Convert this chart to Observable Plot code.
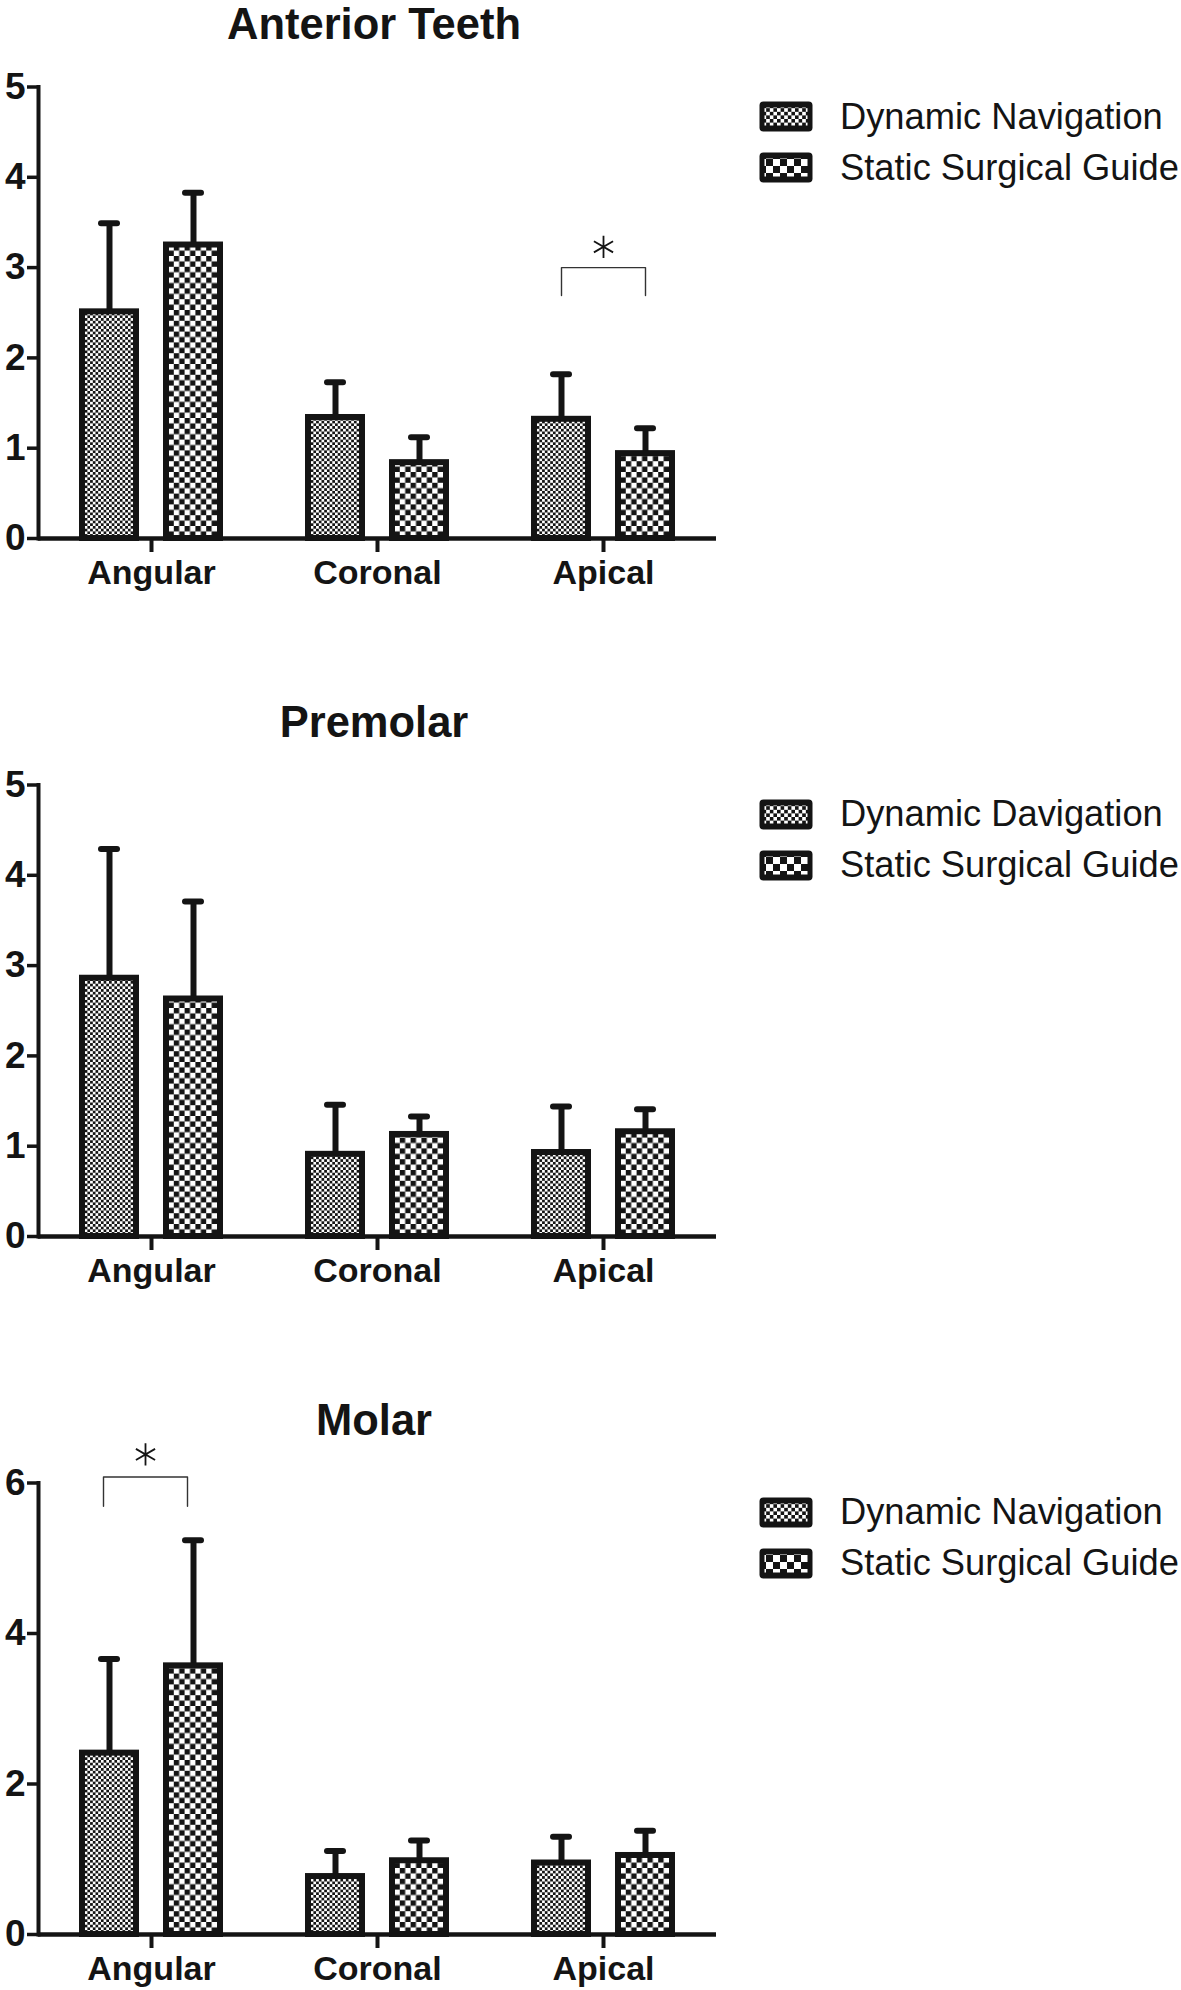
<!DOCTYPE html>
<html>
<head>
<meta charset="utf-8">
<script src="https://cdn.jsdelivr.net/npm/d3@7"></script>
<script src="https://cdn.jsdelivr.net/npm/@observablehq/plot@0.6"></script>
<style>
  html, body { margin: 0; padding: 0; background: #fff; }
  body { width: 1181px; height: 1990px; overflow: hidden; position: relative;
         font-family: "Liberation Sans", Arial, Helvetica, sans-serif; color: #141414; }
  .panel { position: absolute; left: 0; width: 1181px; height: 700px; }
  .title { position: absolute; left: 0; width: 748px; text-align: center; font-weight: bold;
           font-size: 43.5px; line-height: normal; white-space: nowrap; }
  .chart { position: absolute; left: 0; }
  .legend { position: absolute; left: 759px; width: 420px; height: 110px; }
  .item { position: absolute; left: 0; width: 420px; height: 36px; }
  .item svg { position: absolute; left: 0; }
  .item span { position: absolute; left: 81px; font-size: 36.3px; line-height: 36px; white-space: nowrap; }
</style>
</head>
<body>
<svg width="0" height="0" style="position:absolute;left:0;top:0">
  <defs>
    <pattern id="fineChecker" patternUnits="userSpaceOnUse" width="5.4" height="5.4">
      <rect width="5.4" height="5.4" fill="#fff"/>
      <rect width="2.7" height="2.7" fill="#141414"/>
      <rect x="2.7" y="2.7" width="2.7" height="2.7" fill="#141414"/>
    </pattern>
    <pattern id="coarseChecker" patternUnits="userSpaceOnUse" width="10.8" height="10.8">
      <rect width="10.8" height="10.8" fill="#fff"/>
      <rect width="5.4" height="5.4" fill="#141414"/>
      <rect x="5.4" y="5.4" width="5.4" height="5.4" fill="#141414"/>
    </pattern>
    <pattern id="legendFine" patternUnits="userSpaceOnUse" width="7.2" height="7.2">
      <rect width="7.2" height="7.2" fill="#fff"/>
      <rect width="3.6" height="3.6" fill="#141414"/>
      <rect x="3.6" y="3.6" width="3.6" height="3.6" fill="#141414"/>
    </pattern>
    <pattern id="legendCoarse" patternUnits="userSpaceOnUse" width="14" height="14">
      <rect width="14" height="14" fill="#fff"/>
      <rect width="7" height="7" fill="#141414"/>
      <rect x="7" y="7" width="7" height="7" fill="#141414"/>
    </pattern>
  </defs>
</svg>
<div id="root"></div>
<script>
// ---------------- data ----------------
const categories = ["Angular", "Coronal", "Apical"];
const seriesNames = ["Dynamic Navigation", "Static Surgical Guide"];
const panelTitles = ["Anterior Teeth", "Premolar", "Molar"];
const legendLabelsAnterior = ["Dynamic Navigation", "Static Surgical Guide"];
const legendLabelsPremolar = ["Dynamic Davigation", "Static Surgical Guide"];
const legendLabelsMolar = ["Dynamic Navigation", "Static Surgical Guide"];

// means (bar heights) and mean + SD (error bar tops)
const anteriorDynamic = [2.51, 1.34, 1.32];
const anteriorDynamicUpper = [3.49, 1.73, 1.82];
const anteriorStatic = [3.25, 0.84, 0.94];
const anteriorStaticUpper = [3.83, 1.12, 1.22];

const premolarDynamic = [2.86, 0.91, 0.93];
const premolarDynamicUpper = [4.29, 1.46, 1.44];
const premolarStatic = [2.63, 1.13, 1.16];
const premolarStaticUpper = [3.71, 1.33, 1.41];

const molarDynamic = [2.41, 0.77, 0.95];
const molarDynamicUpper = [3.66, 1.11, 1.30];
const molarStatic = [3.57, 0.98, 1.05];
const molarStaticUpper = [5.24, 1.25, 1.38];

// y axes
const anteriorYMax = 5, premolarYMax = 5, molarYMax = 6;
const anteriorYTicks = [0, 1, 2, 3, 4, 5];
const premolarYTicks = [0, 1, 2, 3, 4, 5];
const molarYTicks = [0, 2, 4, 6];

// significance brackets (category, bracket top, leg bottom, asterisk level)
const anteriorSig = {category: "Apical", top: 3.0, leg: 2.69, star: 3.23};
const molarSig = {category: "Angular", top: 6.08, leg: 5.69, star: 6.38};

// ---------------- build ----------------
const panels = [
  {title: panelTitles[0], dyn: anteriorDynamic, dynU: anteriorDynamicUpper, sta: anteriorStatic, staU: anteriorStaticUpper,
   yMax: anteriorYMax, yTicks: anteriorYTicks, legend: legendLabelsAnterior, sig: anteriorSig, sigDx: 0},
  {title: panelTitles[1], dyn: premolarDynamic, dynU: premolarDynamicUpper, sta: premolarStatic, staU: premolarStaticUpper,
   yMax: premolarYMax, yTicks: premolarYTicks, legend: legendLabelsPremolar, sig: null, sigDx: 0},
  {title: panelTitles[2], dyn: molarDynamic, dynU: molarDynamicUpper, sta: molarStatic, staU: molarStaticUpper,
   yMax: molarYMax, yTicks: molarYTicks, legend: legendLabelsMolar, sig: molarSig, sigDx: -6}
];
const panelTop = [0, 697.7, 1395.5];
const INK = "#141414";

const root = document.getElementById("root");

panels.forEach((p, i) => {
  const T = panelTop[i];
  const panel = document.createElement("div");
  panel.className = "panel";
  panel.style.top = T + "px";
  root.appendChild(panel);

  const title = document.createElement("div");
  title.className = "title";
  title.style.top = "0px";
  title.textContent = p.title;
  panel.appendChild(title);

  const rows = [];
  categories.forEach((c, j) => {
    rows.push({category: c, series: seriesNames[0], value: p.dyn[j], upper: p.dynU[j]});
    rows.push({category: c, series: seriesNames[1], value: p.sta[j], upper: p.staU[j]});
  });

  const bracket = p.sig ? [
    {category: p.sig.category, series: seriesNames[0], y: p.sig.leg},
    {category: p.sig.category, series: seriesNames[0], y: p.sig.top},
    {category: p.sig.category, series: seriesNames[1], y: p.sig.top},
    {category: p.sig.category, series: seriesNames[1], y: p.sig.leg}
  ] : [];
  const stars = p.sig ? [{category: p.sig.category, y: p.sig.star}] : [];

  const chart = Plot.plot({
    width: 740,
    height: 558,
    marginLeft: 37,
    marginRight: 24,
    marginTop: 46.5,
    marginBottom: 60,
    style: "font-family: 'Liberation Sans', Arial, sans-serif; font-weight: bold; font-size: 36px; overflow: visible; background: transparent; color: #141414;",
    fx: {domain: categories, padding: 0, label: null},
    x: {domain: seriesNames, paddingInner: 0.36, paddingOuter: 0.51, axis: null},
    y: {domain: [0, p.yMax], label: null},
    marks: [
      Plot.ruleX(rows, {fx: "category", x: "series", y1: "value", y2: "upper", stroke: INK, strokeWidth: 6}),
      Plot.tickY(rows, {fx: "category", x: "series", y: "upper", stroke: INK, strokeWidth: 6,
                        strokeLinecap: "round", insetLeft: 19, insetRight: 19}),
      Plot.barY(rows.filter(d => d.series === seriesNames[0]),
                {fx: "category", x: "series", y: "value", fill: "url(#fineChecker)", stroke: INK, strokeWidth: 6}),
      Plot.barY(rows.filter(d => d.series === seriesNames[1]),
                {fx: "category", x: "series", y: "value", fill: "url(#coarseChecker)", stroke: INK, strokeWidth: 6}),
      Plot.ruleY([0], {stroke: INK, strokeWidth: 4.5}),
      Plot.frame({anchor: "left", facetAnchor: "left", stroke: INK, strokeWidth: 4}),
      Plot.axisY({ticks: p.yTicks, tickFormat: d => String(d), tickSize: 11, tickPadding: 2,
                  fontSize: 37, fontWeight: "bold", stroke: INK, strokeWidth: 3.5, label: null}),
      Plot.axisFx({anchor: "bottom", tickSize: 14, tickPadding: 7, fontSize: 34, fontWeight: "bold",
                   stroke: INK, strokeWidth: 4, label: null}),
      Plot.line(bracket, {fx: "category", x: "series", y: "y", stroke: "#333", strokeWidth: 1.4, dx: p.sigDx}),
      Plot.dot(stars, {fx: "category", y: "y", symbol: "asterisk", r: 10.5, stroke: INK, strokeWidth: 1.8, dx: p.sigDx})
    ]
  });
  chart.classList.add("chart");
  chart.style.position = "absolute";
  chart.style.left = "0px";
  chart.style.top = "40px";
  panel.appendChild(chart);

  // legend
  const legend = document.createElement("div");
  legend.className = "legend";
  legend.style.top = "101px";
  const pats = ["legendFine", "legendCoarse"];
  p.legend.forEach((label, k) => {
    const item = document.createElement("div");
    item.className = "item";
    item.style.top = (k * 51) + "px";
    item.innerHTML =
      `<svg width="54" height="31" style="top:0px"><rect x="0.5" y="0.5" width="53" height="30" rx="4" fill="${INK}"/>` +
      `<rect x="5.5" y="6.5" width="43" height="18" fill="url(#${pats[k]})"/></svg>` +
      `<span style="top:-2.5px"></span>`;
    item.querySelector("span").textContent = label;
    legend.appendChild(item);
  });
  panel.appendChild(legend);
});
</script>
</body>
</html>
